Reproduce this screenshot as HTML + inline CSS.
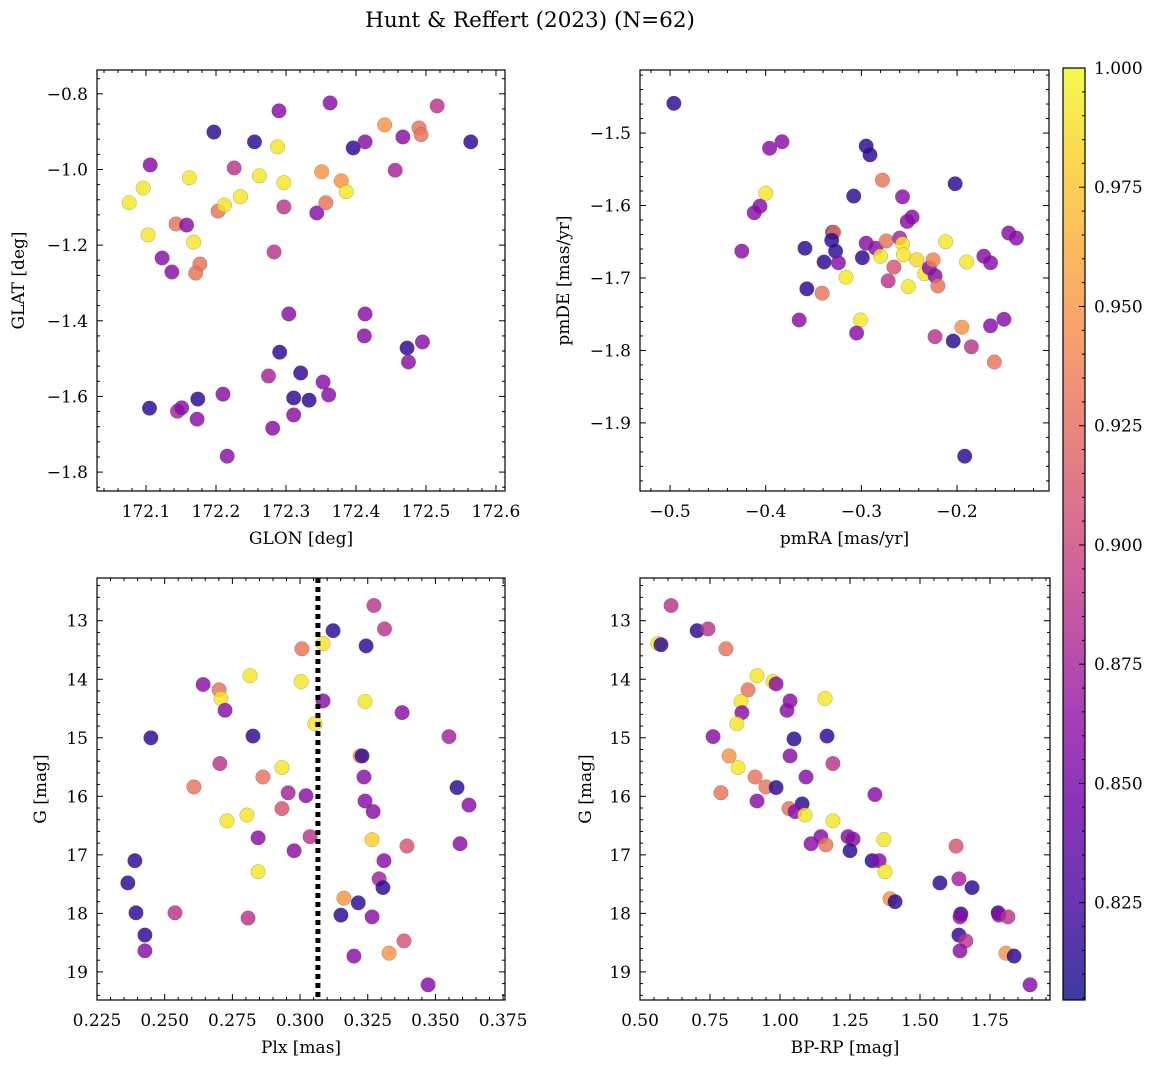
<!DOCTYPE html>
<html><head><meta charset="utf-8"><style>
body{margin:0;background:#fff;}
svg{display:block;font-family:"DejaVu Serif","Liberation Serif",serif;}
</style></head><body>
<svg id="c" width="1160" height="1068" viewBox="0 0 1160 1068" xmlns="http://www.w3.org/2000/svg">
<defs><linearGradient id="plasma" x1="0" y1="1" x2="0" y2="0">
<stop offset="0" stop-color="#0d0887"/><stop offset="0.1" stop-color="#41049d"/><stop offset="0.2" stop-color="#6a00a8"/><stop offset="0.3" stop-color="#8f0da4"/><stop offset="0.4" stop-color="#b12a90"/><stop offset="0.5" stop-color="#cc4778"/><stop offset="0.6" stop-color="#e16462"/><stop offset="0.7" stop-color="#f2844b"/><stop offset="0.8" stop-color="#fca636"/><stop offset="0.9" stop-color="#fcce25"/><stop offset="1" stop-color="#f0f921"/></linearGradient></defs>
<text x="530" y="27" font-size="21.5" text-anchor="middle">Hunt &amp; Reffert (2023) (N=62)</text>
</svg>
<script>
// Panel 1: GLON vs GLAT
const p1Glon=[172.076,172.096,172.106,172.103,172.123,172.137,172.143,172.158,172.162,172.168,172.177,172.171,172.197,172.203,172.212,172.226,172.235,172.255,172.262,172.288,172.290,172.283,172.297,172.297,172.344,172.351,172.357,172.363,172.379,172.386,172.396,172.413,172.441,172.456,172.467,172.490,172.493,172.516,172.564,172.105,172.145,172.151,172.174,172.173,172.210,172.216,172.275,172.281,172.291,172.304,172.311,172.311,172.321,172.333,172.353,172.361,172.413,172.412,172.473,172.475,172.495];
const p1Glat=[-1.088,-1.049,-0.988,-1.173,-1.234,-1.271,-1.144,-1.147,-1.022,-1.192,-1.250,-1.274,-0.901,-1.110,-1.094,-0.996,-1.072,-0.927,-1.017,-0.940,-0.845,-1.218,-1.035,-1.099,-1.115,-1.006,-1.088,-0.824,-1.030,-1.059,-0.943,-0.927,-0.882,-1.002,-0.914,-0.890,-0.908,-0.832,-0.927,-1.631,-1.639,-1.630,-1.607,-1.660,-1.594,-1.758,-1.546,-1.684,-1.483,-1.382,-1.604,-1.649,-1.538,-1.610,-1.562,-1.596,-1.382,-1.440,-1.472,-1.509,-1.456];
const p1Prob=[0.992,0.992,0.86,0.992,0.86,0.86,0.93,0.86,0.992,0.992,0.93,0.93,0.815,0.93,0.992,0.888,0.992,0.815,0.992,0.992,0.86,0.888,0.992,0.888,0.86,0.95,0.93,0.86,0.95,0.992,0.815,0.86,0.95,0.875,0.86,0.93,0.93,0.888,0.815,0.815,0.875,0.86,0.815,0.86,0.86,0.86,0.875,0.86,0.815,0.86,0.815,0.86,0.815,0.815,0.86,0.86,0.86,0.86,0.815,0.86,0.86];
// Panel 2: pmRA vs pmDE
const p2PmRA=[-0.496,-0.396,-0.383,-0.400,-0.406,-0.412,-0.425,-0.359,-0.357,-0.365,-0.339,-0.330,-0.329,-0.331,-0.327,-0.324,-0.341,-0.316,-0.308,-0.295,-0.291,-0.295,-0.299,-0.285,-0.280,-0.278,-0.274,-0.272,-0.266,-0.301,-0.305,-0.260,-0.257,-0.257,-0.256,-0.251,-0.252,-0.247,-0.242,-0.234,-0.229,-0.225,-0.223,-0.220,-0.223,-0.212,-0.195,-0.190,-0.204,-0.202,-0.192,-0.185,-0.172,-0.165,-0.165,-0.161,-0.151,-0.146,-0.138];
const p2PmDE=[-1.459,-1.521,-1.512,-1.583,-1.601,-1.610,-1.663,-1.659,-1.715,-1.758,-1.678,-1.637,-1.637,-1.648,-1.663,-1.679,-1.721,-1.699,-1.587,-1.518,-1.530,-1.652,-1.672,-1.659,-1.670,-1.565,-1.649,-1.704,-1.685,-1.758,-1.776,-1.645,-1.588,-1.653,-1.668,-1.712,-1.622,-1.616,-1.675,-1.694,-1.686,-1.675,-1.697,-1.711,-1.781,-1.650,-1.768,-1.678,-1.787,-1.570,-1.946,-1.795,-1.670,-1.679,-1.766,-1.816,-1.757,-1.638,-1.645];
const p2Prob=[0.815,0.86,0.86,0.992,0.86,0.86,0.86,0.815,0.815,0.86,0.815,0.815,0.93,0.815,0.815,0.86,0.93,0.992,0.815,0.815,0.815,0.86,0.815,0.86,0.992,0.93,0.93,0.888,0.91,0.992,0.86,0.875,0.86,0.992,0.992,0.992,0.86,0.86,0.985,0.992,0.86,0.94,0.86,0.93,0.888,0.992,0.95,0.992,0.815,0.815,0.815,0.888,0.86,0.86,0.86,0.93,0.86,0.86,0.86];
// Panel 3: Plx vs G
const p3Plx=[0.3273,0.3312,0.3122,0.3085,0.3007,0.3244,0.2815,0.2642,0.2701,0.2708,0.3004,0.3085,0.3240,0.3377,0.2723,0.3055,0.2449,0.2826,0.3550,0.3222,0.3229,0.2704,0.2933,0.2863,0.3236,0.2608,0.3580,0.2956,0.3022,0.3240,0.3624,0.2933,0.2804,0.3270,0.2730,0.3591,0.3395,0.3266,0.3037,0.2845,0.2978,0.2390,0.3310,0.2845,0.3292,0.2364,0.3306,0.3162,0.2394,0.2538,0.2808,0.3151,0.3266,0.3215,0.2427,0.3384,0.2427,0.3329,0.3199,0.3473];
const p3G=[12.74,13.14,13.17,13.39,13.48,13.43,13.94,14.09,14.18,14.33,14.04,14.37,14.38,14.57,14.53,14.76,15.00,14.97,14.98,15.31,15.31,15.44,15.51,15.67,15.67,15.84,15.85,15.94,15.99,16.08,16.15,16.21,16.32,16.26,16.42,16.81,16.85,16.74,16.69,16.71,16.93,17.10,17.10,17.29,17.41,17.48,17.56,17.74,17.99,17.99,18.08,18.03,18.06,17.82,18.37,18.47,18.64,18.68,18.73,19.22];
const p3Prob=[0.888,0.888,0.815,0.992,0.93,0.815,0.992,0.86,0.93,0.992,0.992,0.86,0.992,0.86,0.86,0.992,0.815,0.815,0.875,0.95,0.815,0.888,0.992,0.93,0.86,0.93,0.815,0.875,0.86,0.86,0.86,0.91,0.992,0.86,0.992,0.86,0.91,0.98,0.888,0.86,0.86,0.815,0.86,0.992,0.875,0.815,0.815,0.95,0.815,0.888,0.888,0.815,0.86,0.815,0.815,0.91,0.86,0.95,0.86,0.86];
// Panel 4: BP-RP vs G
const p4Bprp=[0.611,0.564,0.575,0.704,0.743,0.807,0.918,0.886,0.861,0.864,0.975,0.986,1.161,1.036,1.025,0.846,0.761,1.050,1.168,0.818,1.036,0.850,0.911,1.093,1.189,0.950,0.986,0.789,0.918,1.079,1.032,1.054,1.089,1.189,1.339,1.146,1.243,1.261,1.111,1.164,1.250,1.371,1.329,1.354,1.375,1.393,1.411,1.571,1.639,1.686,1.646,1.643,1.629,1.639,1.664,1.643,1.779,1.782,1.814,1.807,1.836,1.893];
const p4G=[12.74,13.39,13.41,13.17,13.14,13.48,13.94,14.18,14.38,14.57,14.04,14.08,14.33,14.37,14.53,14.76,14.98,15.02,14.97,15.31,15.31,15.51,15.67,15.67,15.44,15.84,15.85,15.94,16.08,16.13,16.21,16.26,16.32,16.42,15.97,16.69,16.69,16.73,16.81,16.83,16.93,16.74,17.10,17.10,17.29,17.75,17.80,17.48,17.41,17.56,18.01,18.06,16.85,18.37,18.47,18.64,17.99,18.03,18.06,18.68,18.73,19.22];
const p4Prob=[0.888,0.992,0.815,0.815,0.888,0.93,0.992,0.93,0.992,0.86,0.992,0.86,0.992,0.86,0.86,0.992,0.86,0.815,0.815,0.95,0.86,0.992,0.93,0.86,0.888,0.93,0.815,0.93,0.86,0.815,0.93,0.86,0.992,0.992,0.86,0.86,0.86,0.86,0.86,0.93,0.815,0.992,0.815,0.86,0.992,0.95,0.815,0.815,0.875,0.815,0.815,0.86,0.91,0.815,0.888,0.86,0.815,0.86,0.888,0.95,0.815,0.86];
const cbTicks=[0.825,0.850,0.875,0.900,0.925,0.950,0.975,1.000];
const plxCut=0.3066;
const vmin=0.8046, vmax=1.0;

const NS='http://www.w3.org/2000/svg';
const svg=document.getElementById('c');
function el(tag,attrs,parent){const e=document.createElementNS(NS,tag);for(const k in attrs)e.setAttribute(k,attrs[k]);(parent||svg).appendChild(e);return e;}
const stops=[[13,8,135],[65,4,157],[106,0,168],[143,13,164],[177,42,144],[204,71,120],[225,100,98],[242,132,75],[252,166,54],[252,206,37],[240,249,33]];
function cmap(v){let t=(v-vmin)/(vmax-vmin);t=Math.max(0,Math.min(1,t))*10;const i=Math.min(9,Math.floor(t)),f=t-i;const a=stops[i],b=stops[i+1];return 'rgb('+a.map((c,j)=>Math.round(c+(b[j]-c)*f)).join(',')+')';}
function fmt(v,d){return (v<0?'\u2212':'')+Math.abs(v).toFixed(d);}

function panel(name,L,T,R,B,xmin,xmax,ymin,ymax,invertY,xt,yt,xd,yd,xlab,ylab,ylx,xs,ys,ps){
  const g=el('g',{});
  
  
  const sx=v=>L+(v-xmin)/(xmax-xmin)*(R-L);
  const sy=v=>invertY? T+(v-ymin)/(ymax-ymin)*(B-T) : B-(v-ymin)/(ymax-ymin)*(B-T);
  const clip='clip'+name;
  const cp=el('clipPath',{id:clip},g);el('rect',{x:L,y:T,width:R-L,height:B-T},cp);
  const pts=el('g',{'clip-path':'url(#'+clip+')'},g);
  for(let i=0;i<xs.length;i++){
    const c=el('circle',{cx:sx(xs[i]),cy:sy(ys[i]),r:7.3,fill:cmap(ps[i]),'fill-opacity':0.82,stroke:'#555','stroke-width':0.4,'stroke-opacity':0.6},pts);
    
    
  }
  g.pts=pts;g.sx=sx;g.sy=sy;
  const tk=el('g',{stroke:'#000','stroke-width':1},g);
  const xstep=xt[1]-xt[0], ystep=yt[1]-yt[0];
  for(let v=xt[0]-xstep;v<=xt[xt.length-1]+xstep*1.001;v+=xstep/5){const x=sx(v);if(x<L-0.5||x>R+0.5)continue;const maj=Math.abs((v-xt[0])/xstep-Math.round((v-xt[0])/xstep))<1e-6;const l=maj?6:3;el('line',{x1:x,y1:B,x2:x,y2:B-l},tk);el('line',{x1:x,y1:T,x2:x,y2:T+l},tk);}
  for(let v=yt[0]-ystep;v<=yt[yt.length-1]+ystep*1.001;v+=ystep/5){const y=sy(v);if(y<T-0.5||y>B+0.5)continue;const maj=Math.abs((v-yt[0])/ystep-Math.round((v-yt[0])/ystep))<1e-6;const l=maj?6:3;el('line',{x1:L,y1:y,x2:L+l,y2:y},tk);el('line',{x1:R,y1:y,x2:R-l,y2:y},tk);}
  el('rect',{x:L,y:T,width:R-L,height:B-T,fill:'none',stroke:'#000','stroke-width':1.2},g);
  xt.forEach(v=>{const t=el('text',{x:sx(v),y:B+26,'font-size':17,'text-anchor':'middle'},g);t.textContent=fmt(v,xd);});
  yt.forEach(v=>{const t=el('text',{x:L-9,y:sy(v)+6,'font-size':17,'text-anchor':'end'},g);t.textContent=fmt(v,yd);});
  const xl=el('text',{x:(L+R)/2,y:B+53,'font-size':17,'text-anchor':'middle'},g);xl.textContent=xlab;
  
  const yc=(T+B)/2;const yl=el('text',{x:ylx,y:yc,'font-size':17,'text-anchor':'middle',transform:'rotate(-90 '+ylx+' '+yc+')'},g);yl.textContent=ylab;
  
  return g;
}
panel('glon-glat-panel',97,70,505,491,172.030,172.6129,-1.850,-0.737,false,[172.1,172.2,172.3,172.4,172.5,172.6],[-1.8,-1.6,-1.4,-1.2,-1.0,-0.8],1,1,'GLON [deg]','GLAT [deg]',24,p1Glon,p1Glat,p1Prob);
panel('pm-panel',640,70,1049,491,-0.5314,-0.1039,-1.994,-1.413,false,[-0.5,-0.4,-0.3,-0.2],[-1.9,-1.8,-1.7,-1.6,-1.5],1,1,'pmRA [mas/yr]','pmDE [mas/yr]',569,p2PmRA,p2PmDE,p2Prob);
const g3=panel('plx-g-panel',97,578,505,1000,0.225,0.3757,12.27,19.48,true,[0.225,0.25,0.275,0.3,0.325,0.35,0.375],[13,14,15,16,17,18,19],3,0,'Plx [mas]','G [mag]',46,p3Plx,p3G,p3Prob);
const dl=el('line',{x1:g3.sx(plxCut),y1:578,x2:g3.sx(plxCut),y2:1000,stroke:'#000','stroke-width':5,'stroke-dasharray':'5,4'},g3);


panel('cmd-panel',640,578,1050,1000,0.5,1.9643,12.27,19.48,true,[0.5,0.75,1.0,1.25,1.5,1.75],[13,14,15,16,17,18,19],2,0,'BP-RP [mag]','G [mag]',591,p4Bprp,p4G,p4Prob);

const cb=el('g',{});


const cT=68,cB=1000,cL=1063,cR=1085;
el('rect',{x:cL,y:cT,width:cR-cL,height:cB-cT,fill:'url(#plasma)','fill-opacity':0.8},cb);
el('rect',{x:cL,y:cT,width:cR-cL,height:cB-cT,fill:'none',stroke:'#000','stroke-width':1.2},cb);
const cy=v=>cB-(v-vmin)/(vmax-vmin)*(cB-cT);
for(let v=0.805;v<=1.0001;v+=0.005){const y=cy(v);const maj=Math.abs(v*40-Math.round(v*40))<1e-6;el('line',{x1:cR,y1:y,x2:cR-(maj?6:3),y2:y,stroke:'#000','stroke-width':1},cb);}
cbTicks.forEach(v=>{const t=el('text',{x:1094,y:cy(v)+6,'font-size':17},cb);t.textContent=v.toFixed(3);});
</script>
</body></html>
